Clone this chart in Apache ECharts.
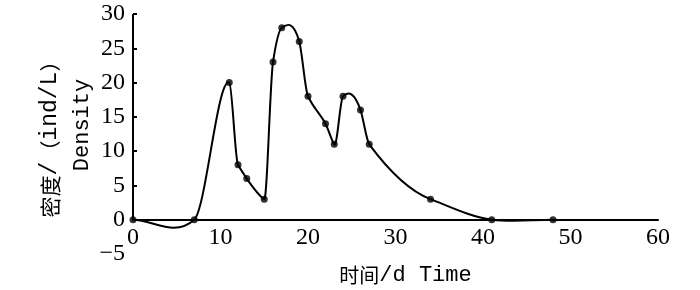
<!DOCTYPE html>
<html>
<head>
<meta charset="utf-8">
<script src="https://cdn.jsdelivr.net/npm/echarts@6/dist/echarts.min.js"></script>
<style>html,body{margin:0;padding:0;background:#fff;}#c{width:700px;height:290px;}</style>
</head>
<body>
<div id="c"></div>
<script>
var days = [0, 7, 11, 12, 13, 15, 16, 17, 19, 20, 22, 23, 24, 26, 27, 34, 41, 48];
var density = [0, 0, 20, 8, 6, 3, 23, 28, 26, 18, 14, 11, 18, 16, 11, 3, 0, 0];
var xTicks = [0, 10, 20, 30, 40, 50, 60];
var yTicks = [-5, 0, 5, 10, 15, 20, 25, 30];
var xName = '{c|时间}{a|/d Time}';
var yName = '{c|密度}{a|/}{c|（}{a|ind/L}{c|）}\n{b|Density}';

var pts = days.map(function (d, i) { return [d, density[i]]; });
var numFont = '"Liberation Serif", "Times New Roman", serif';
var monoFont = '"Liberation Mono", monospace';
var cjkFont = '"Noto Sans CJK SC", sans-serif';

// Akima-type tangents for the smooth curve through the data points
var tangents = (function () {
  var n = days.length, m = [], t = [];
  for (var i = 0; i < n - 1; i++) m.push((density[i + 1] - density[i]) / (days[i + 1] - days[i]));
  function sec(k) {
    if (k < 0) return k === -1 ? 2 * m[0] - m[1] : 2 * (2 * m[0] - m[1]) - m[0];
    if (k > n - 2) return k === n - 1 ? 2 * m[n - 2] - m[n - 3] : 2 * (2 * m[n - 2] - m[n - 3]) - m[n - 2];
    return m[k];
  }
  for (var j = 0; j < n; j++) {
    if (j === 0) { t.push(m[0]); continue; }
    if (j === n - 1) { t.push(m[n - 2]); continue; }
    var w1 = Math.abs(sec(j + 1) - sec(j)), w2 = Math.abs(sec(j - 1) - sec(j - 2));
    if (w1 + w2 === 0) t.push((sec(j - 1) + sec(j)) / 2);
    else t.push((w1 * sec(j - 1) + w2 * sec(j)) / (w1 + w2));
  }
  return t;
})();

function renderSeg(params, api) {
  var i = params.dataIndex;
  if (i >= days.length - 1) return null;
  var x0 = days[i], y0 = density[i], x1 = days[i + 1], y1 = density[i + 1];
  var h = x1 - x0;
  var p0 = api.coord([x0, y0]);
  var c1 = api.coord([x0 + h / 3, y0 + tangents[i] * h / 3]);
  var c2 = api.coord([x1 - h / 3, y1 - tangents[i + 1] * h / 3]);
  var p1 = api.coord([x1, y1]);
  return {
    type: 'bezierCurve',
    shape: {x1: p0[0], y1: p0[1], cpx1: c1[0], cpy1: c1[1], cpx2: c2[0], cpy2: c2[1], x2: p1[0], y2: p1[1]},
    style: {stroke: '#000', lineWidth: 2, fill: null}
  };
}

var chart = echarts.init(document.getElementById('c'), null, {renderer: 'canvas'});
chart.setOption({
  animation: false,
  backgroundColor: '#fff',
  grid: {left: 133, right: 42, top: 14, bottom: 36, containLabel: false, outerBoundsMode: 'none'},
  xAxis: {
    type: 'value',
    min: xTicks[0], max: xTicks[xTicks.length - 1], interval: 10,
    axisLine: {show: true, onZero: true, lineStyle: {color: '#000', width: 2}},
    axisTick: {show: false},
    splitLine: {show: false},
    axisLabel: {color: '#000', fontFamily: numFont, fontSize: 24, margin: -28},
    name: xName, nameLocation: 'middle', nameGap: 10, nameMoveOverlap: false,
    nameTextStyle: {color: '#000', padding: [0, 0, 0, 20], rich: {
      c: {fontFamily: cjkFont, fontSize: 20, color: '#000'},
      a: {fontFamily: monoFont, fontSize: 22, color: '#000'}
    }}
  },
  yAxis: {
    type: 'value',
    min: yTicks[0], max: yTicks[yTicks.length - 1], interval: 5,
    axisLine: {show: false},
    axisTick: {show: true, inside: true, length: 4, customValues: [5, 10, 15, 20, 25, 30], lineStyle: {color: '#000', width: 2}},
    splitLine: {show: false},
    axisLabel: {color: '#000', fontFamily: numFont, fontSize: 24, margin: 8,
      formatter: function (v) { return v < 0 ? '\u2212' + Math.abs(v) : String(v); }},
    name: yName, nameLocation: 'middle', nameGap: 35, nameRotate: 90, nameMoveOverlap: false,
    nameTextStyle: {color: '#000', align: 'center', lineHeight: 32, rich: {
      c: {fontFamily: cjkFont, fontSize: 21, color: '#000', lineHeight: 32},
      a: {fontFamily: monoFont, fontSize: 23, color: '#000', lineHeight: 32},
      b: {fontFamily: monoFont, fontSize: 22, color: '#000', lineHeight: 32, padding: [0, 0, 0, 18]}
    }}
  },
  series: [{
    type: 'custom',
    data: pts,
    renderItem: renderSeg,
    clip: true,
    silent: true,
    z: 2,
    markLine: {
      silent: true, symbol: 'none', label: {show: false},
      lineStyle: {color: '#000', width: 2, type: 'solid'},
      data: [[{coord: [0, 0]}, {coord: [0, 30]}]]
    }
  }, {
    type: 'scatter',
    data: pts,
    symbol: 'circle',
    symbolSize: 7,
    itemStyle: {color: '#000'},
    z: 3
  }]
});
</script>
</body>
</html>
